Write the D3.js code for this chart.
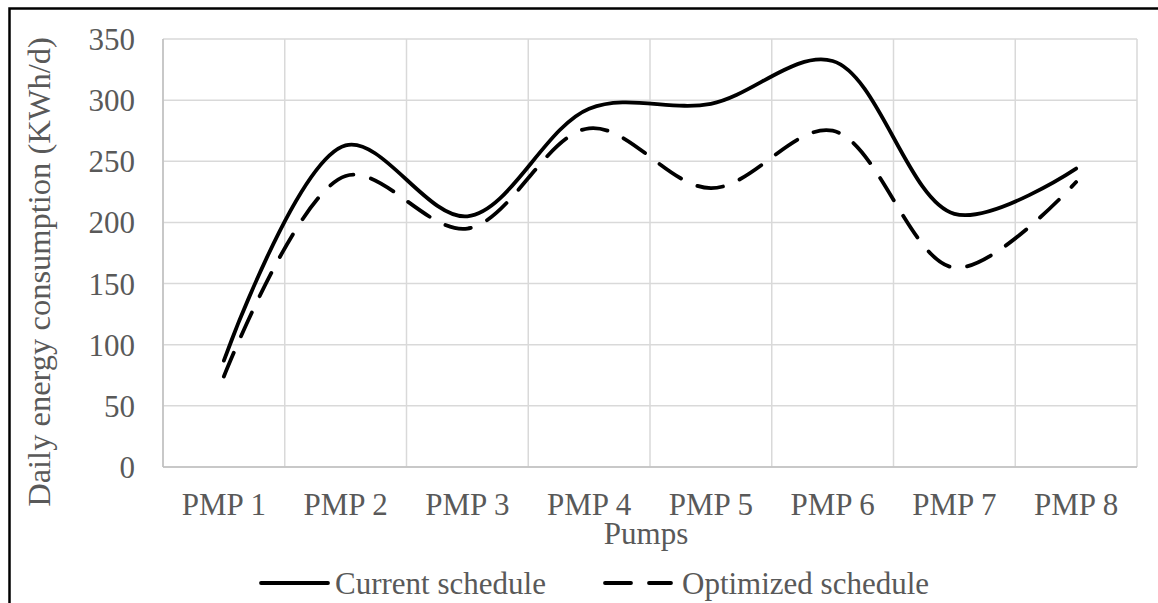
<!DOCTYPE html>
<html><head><meta charset="utf-8">
<script src="https://cdn.jsdelivr.net/npm/d3@7"></script>
<style>body{margin:0;background:#fff}svg{display:block}</style>
</head><body>
<script>
const categories = ["PMP 1","PMP 2","PMP 3","PMP 4","PMP 5","PMP 6","PMP 7","PMP 8"];
const currentSchedule = [87, 263, 205, 293, 297, 332, 207, 244];
const optimizedSchedule = [74, 238, 195, 277, 228, 275, 163, 233];
const yTicks = [0, 50, 100, 150, 200, 250, 300, 350];
const seriesNames = ["Current schedule", "Optimized schedule"];

const W = 1158, H = 603;
const m = {left:163, right:1137, top:39, bottom:467};
const font = "'Liberation Serif','Times New Roman',serif";
const txt = "#595959";
const LW = 3.8;
const DASH = "26 18";

const svg = d3.select("body").append("svg").attr("width", W).attr("height", H);
svg.append("rect").attr("x",0).attr("y",0).attr("width",W).attr("height",H).attr("fill","#fff");
svg.append("rect").attr("x",9.5).attr("y",8.5).attr("width",W+20).attr("height",H+20)
  .attr("fill","none").attr("stroke","#000").attr("stroke-width",2.5);

const x = d3.scaleBand().domain(categories).range([m.left, m.right]).padding(0);
const y = d3.scaleLinear().domain([0,350]).range([m.bottom, m.top]);

svg.append("g").selectAll("line").data(yTicks).join("line")
  .attr("x1", m.left).attr("x2", m.right)
  .attr("y1", d=>y(d)).attr("y2", d=>y(d))
  .attr("stroke","#d9d9d9").attr("stroke-width",1.5);
const bounds = categories.map(c=>x(c)).concat([m.right]);
svg.append("g").selectAll("line").data(bounds).join("line")
  .attr("x1", d=>d).attr("x2", d=>d)
  .attr("y1", m.top).attr("y2", m.bottom)
  .attr("stroke","#d9d9d9").attr("stroke-width",1.5);
svg.append("line").attr("x1",m.left).attr("x2",m.left).attr("y1",m.top).attr("y2",m.bottom)
  .attr("stroke","#bfbfbf").attr("stroke-width",1.5);
svg.append("line").attr("x1",m.left).attr("x2",m.right).attr("y1",m.bottom).attr("y2",m.bottom)
  .attr("stroke","#bfbfbf").attr("stroke-width",1.5);

svg.append("g").selectAll("text").data(yTicks).join("text")
  .attr("x", 135).attr("y", d=>y(d)+11)
  .attr("text-anchor","end").attr("font-family",font).attr("font-size",31).attr("fill",txt)
  .text(d=>d);
svg.append("g").selectAll("text").data(categories).join("text")
  .attr("x", d=>x(d)+x.bandwidth()/2).attr("y", 515)
  .attr("text-anchor","middle").attr("font-family",font).attr("font-size",31).attr("fill",txt)
  .text(d=>d);
svg.append("text").attr("x", (m.left+m.right)/2 - 4).attr("y", 544)
  .attr("text-anchor","middle").attr("font-family",font).attr("font-size",31).attr("fill",txt)
  .text("Pumps");
svg.append("text").attr("transform",`translate(50,272) rotate(-90)`)
  .attr("text-anchor","middle").attr("font-family",font).attr("font-size",32.5).attr("fill",txt)
  .text("Daily energy consumption (KWh/d)");

const line = d3.line()
  .x((d,i)=>x(categories[i])+x.bandwidth()/2)
  .y(d=>y(d))
  .curve(d3.curveCatmullRom.alpha(0.5));
svg.append("path").datum(currentSchedule).attr("d",line)
  .attr("fill","none").attr("stroke","#000").attr("stroke-width",LW).attr("stroke-linecap","round");
svg.append("path").datum(optimizedSchedule).attr("d",line)
  .attr("fill","none").attr("stroke","#000").attr("stroke-width",LW)
  .attr("stroke-dasharray",DASH).attr("stroke-linecap","round");

const lg = svg.append("g");
lg.append("line").attr("x1",261).attr("x2",328).attr("y1",583).attr("y2",583)
  .attr("stroke","#000").attr("stroke-width",LW).attr("stroke-linecap","round");
lg.append("text").attr("x",335).attr("y",594).attr("font-family",font).attr("font-size",31).attr("fill",txt)
  .text(seriesNames[0]);
lg.append("line").attr("x1",605).attr("x2",671).attr("y1",583).attr("y2",583)
  .attr("stroke","#000").attr("stroke-width",LW).attr("stroke-dasharray","26 18").attr("stroke-linecap","round");
lg.append("text").attr("x",682).attr("y",594).attr("font-family",font).attr("font-size",31).attr("fill",txt)
  .text(seriesNames[1]);
</script>
</body></html>
